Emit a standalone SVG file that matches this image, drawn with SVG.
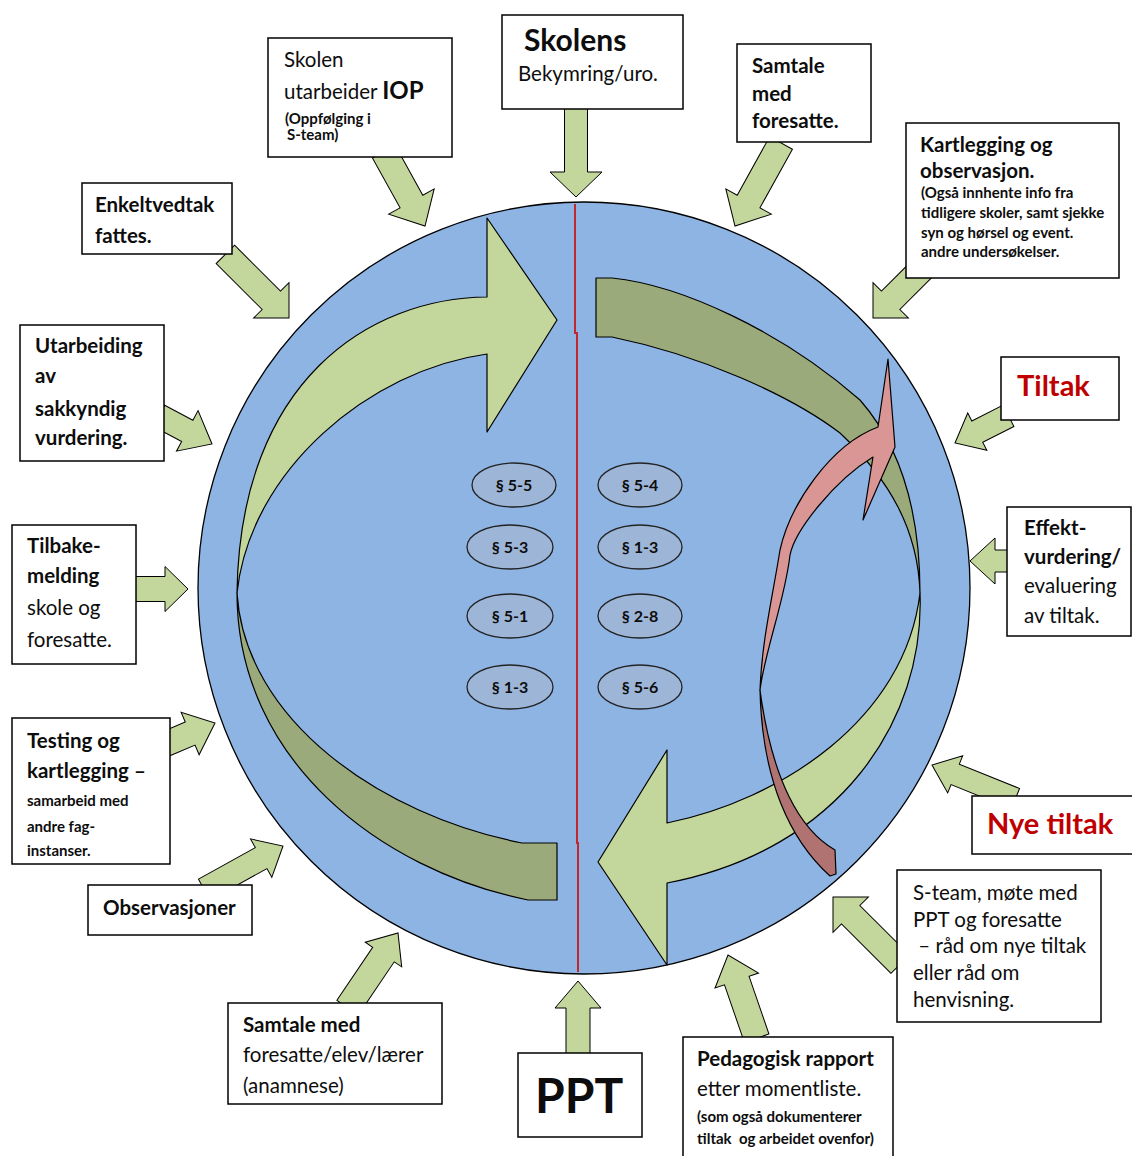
<svg xmlns="http://www.w3.org/2000/svg" width="1132" height="1156" viewBox="0 0 1132 1156">
  <style>
    .box { fill: #ffffff; stroke: #000000; stroke-width: 1.5; }
    .arr { fill: #C3D69B; stroke: #000000; stroke-width: 1; stroke-linejoin: miter; }
    .light { fill: #C3D69B; stroke: #000000; stroke-width: 1.2; stroke-linejoin: round; }
    .dark { fill: #9BAA7A; stroke: #000000; stroke-width: 1.2; stroke-linejoin: round; }
    .pink { fill: #D99694; stroke: #000000; stroke-width: 1.2; stroke-linejoin: round; }
    .pinkd { fill: #B07372; stroke: #000000; stroke-width: 1.2; stroke-linejoin: round; }
    .para ellipse { fill: #9DB6D8; stroke: #222222; stroke-width: 1.3; }
    text { font-family: Lato, "Liberation Sans", sans-serif; fill: #0d0d0d; }
    .b { font-weight: 700; }
    .f17 { font-size: 20.5px; }
    .f12 { font-size: 15px; font-weight: 700; }
    .red { fill: #C00000; font-weight: 700; font-size: 29px; }
    .para text { font-size: 16px; font-weight: 700; text-anchor: middle; }
  </style>

  <!-- central cycle -->
  <g id="cycle">
    <circle cx="584" cy="588" r="386" fill="#8EB4E3" stroke="#000" stroke-width="1.3"/>
    <polyline points="575,204 575,333 577,333 577,843 578,843 578,972" fill="none" stroke="#C0282D" stroke-width="2"/>

    <!-- left curved arrow: back face, then front face with head -->
    <path class="dark" d="M237,593 C237,760 380,870 528,900 L557,900 L557,843 L522,843 C380,815 245,720 237,593 Z"/>
    <path class="light" d="M487,218 L557,320 L487,432 L487,354 C370,370 250,470 237,593 C240,380 370,298 487,297 Z"/>

    <!-- right curved arrow: back face on top, front face with head at bottom -->
    <path class="dark" d="M596,278 L612,278 C680,285 780,330 860,400 C895,440 920,500 920,593 C918,530 890,480 840,433 C790,395 700,355 612,337 L596,337 Z"/>
    <path class="light" d="M920,593 C925,720 840,850 667,883 L667,965 L598,862 L667,750 L667,823 C780,800 905,720 920,593 Z"/>

    <!-- paragraph labels -->
    <g class="para">
      <ellipse cx="514" cy="485" rx="42" ry="22"/><text x="514" y="491">§ 5-5</text>
      <ellipse cx="510" cy="547" rx="43" ry="22"/><text x="510" y="553">§ 5-3</text>
      <ellipse cx="510" cy="616" rx="43" ry="22"/><text x="510" y="622">§ 5-1</text>
      <ellipse cx="510" cy="687" rx="43" ry="22"/><text x="510" y="693">§ 1-3</text>
      <ellipse cx="640" cy="485" rx="42" ry="22"/><text x="640" y="491">§ 5-4</text>
      <ellipse cx="640" cy="547" rx="42" ry="22"/><text x="640" y="553">§ 1-3</text>
      <ellipse cx="640" cy="616" rx="42" ry="22"/><text x="640" y="622">§ 2-8</text>
      <ellipse cx="640" cy="687" rx="42" ry="22"/><text x="640" y="693">§ 5-6</text>
    </g>

    <!-- pink curved arrow: back face, then front face with head -->
    <path class="pinkd" d="M760,690 C762,780 790,840 830,876 L836,874 L835,850 C800,830 772,780 760,690 Z"/>
    <path class="pink" d="M888,359 L895,447 L863,520 L873,457 C835,480 795,530 790,555 C785,600 765,650 760,690 C762,640 772,600 780,550 C790,505 830,445 878,427 Z"/>
  </g>

  <!-- block arrows pointing at the cycle -->
  <g id="connectors">
    <path class="arr" transform="translate(576,197) rotate(90)" d="M-90,-11.5H-25V-26L0,0L-25,26V11.5H-90Z"/>
    <path class="arr" transform="translate(425,226) rotate(61)" d="M-85,-13H-28V-26L0,0L-28,26V13H-85Z"/>
    <path class="arr" transform="translate(735,226) rotate(119)" d="M-95,-13H-28V-26L0,0L-28,26V13H-95Z"/>
    <path class="arr" transform="translate(873,318) rotate(135)" d="M-70,-13H-25V-25L0,0L-25,25V13H-70Z"/>
    <path class="arr" transform="translate(289,318) rotate(45)" d="M-90,-13H-25V-25L0,0L-25,25V13H-90Z"/>
    <path class="arr" transform="translate(212,444) rotate(28)" d="M-60,-12H-28V-23L0,0L-28,23V12H-60Z"/>
    <path class="arr" transform="translate(188,589)" d="M-55,-12.5H-23V-22.5L0,0L-23,22.5V12.5H-55Z"/>
    <path class="arr" transform="translate(215,723) rotate(-23)" d="M-55,-12.5H-27V-23L0,0L-27,23V12.5H-55Z"/>
    <path class="arr" transform="translate(283,846) rotate(-29)" d="M-90,-12H-25V-22L0,0L-25,22V12H-90Z"/>
    <path class="arr" transform="translate(398,933) rotate(-56)" d="M-90,-13H-26V-22L0,0L-26,22V13H-90Z"/>
    <path class="arr" transform="translate(578,981) rotate(-90)" d="M-75,-12H-27V-23L0,0L-27,23V12H-75Z"/>
    <path class="arr" transform="translate(728,955) rotate(-109)" d="M-88,-13H-27V-23L0,0L-27,23V13H-88Z"/>
    <path class="arr" transform="translate(833,897) rotate(-135)" d="M-95,-13H-25V-25L0,0L-25,25V13H-95Z"/>
    <path class="arr" transform="translate(932,765) rotate(202)" d="M-90,-11H-25V-20L0,0L-25,20V11H-90Z"/>
    <path class="arr" transform="translate(955,443) rotate(153)" d="M-60,-12H-25V-21L0,0L-25,21V12H-60Z"/>
    <path class="arr" transform="translate(970,561) rotate(180)" d="M-45,-11H-25V-23L0,0L-25,23V11H-45Z"/>
  </g>

  <!-- text boxes -->
  <g id="skolens">
    <rect class="box" x="502" y="15" width="181" height="94"/>
    <text class="b" x="524" y="51" font-size="30">Skolens</text>
    <text class="f17" x="518" y="81">Bekymring/uro.</text>
  </g>
  <g id="iop">
    <rect class="box" x="268" y="38" width="184" height="119"/>
    <text class="f17" x="284" y="67">Skolen</text>
    <text class="f17" x="284" y="99">utarbeider <tspan class="b" font-size="24">IOP</tspan></text>
    <text class="f12" x="285" y="124" font-size="14.5">(Oppfølging i</text>
    <text class="f12" x="287" y="140" font-size="14.5">S-team)</text>
  </g>
  <g id="samtale-foresatte">
    <rect class="box" x="737" y="44" width="134" height="98"/>
    <text class="f17 b" x="752" y="73">Samtale</text>
    <text class="f17 b" x="752" y="101">med</text>
    <text class="f17 b" x="752" y="128">foresatte.</text>
  </g>
  <g id="kartlegging">
    <rect class="box" x="906" y="123" width="213" height="155"/>
    <text class="f17 b" x="920" y="152">Kartlegging og</text>
    <text class="f17 b" x="920" y="178">observasjon.</text>
    <text class="f12" x="921" y="198">(Også innhente info fra</text>
    <text class="f12" x="921" y="218">tidligere skoler, samt sjekke</text>
    <text class="f12" x="921" y="238">syn og hørsel og event.</text>
    <text class="f12" x="921" y="257">andre undersøkelser.</text>
  </g>
  <g id="enkeltvedtak">
    <rect class="box" x="82" y="183" width="150" height="71"/>
    <text class="f17 b" x="95" y="212">Enkeltvedtak</text>
    <text class="f17 b" x="95" y="243">fattes.</text>
  </g>
  <g id="sakkyndig">
    <rect class="box" x="20" y="325" width="144" height="136"/>
    <text class="f17 b" x="35" y="353">Utarbeiding</text>
    <text class="f17 b" x="35" y="383">av</text>
    <text class="f17 b" x="35" y="416">sakkyndig</text>
    <text class="f17 b" x="35" y="445">vurdering.</text>
  </g>
  <g id="tilbakemelding">
    <rect class="box" x="12" y="525" width="124" height="139"/>
    <text class="f17 b" x="27" y="553">Tilbake-</text>
    <text class="f17 b" x="27" y="583">melding</text>
    <text class="f17" x="27" y="615">skole og</text>
    <text class="f17" x="27" y="647">foresatte.</text>
  </g>
  <g id="testing">
    <rect class="box" x="12" y="718" width="158" height="146"/>
    <text class="f17 b" x="27" y="748">Testing og</text>
    <text class="f17 b" x="27" y="778">kartlegging –</text>
    <text class="f12" x="27" y="806" font-size="16.5">samarbeid med</text>
    <text class="f12" x="27" y="832" font-size="16.5">andre fag-</text>
    <text class="f12" x="27" y="856" font-size="16.5">instanser.</text>
  </g>
  <g id="observasjoner">
    <rect class="box" x="88" y="885" width="164" height="50"/>
    <text class="f17 b" x="103" y="915">Observasjoner</text>
  </g>
  <g id="anamnese">
    <rect class="box" x="228" y="1003" width="214" height="101"/>
    <text class="f17 b" x="243" y="1032">Samtale med</text>
    <text class="f17" x="243" y="1062">foresatte/elev/lærer</text>
    <text class="f17" x="243" y="1093">(anamnese)</text>
  </g>
  <g id="ppt">
    <rect class="box" x="518" y="1053" width="124" height="84"/>
    <text class="b" x="535" y="1113" font-size="48">PPT</text>
  </g>
  <g id="pedagogisk-rapport">
    <rect class="box" x="683" y="1037" width="210" height="125"/>
    <text class="f17 b" x="697" y="1066">Pedagogisk rapport</text>
    <text class="f17" x="697" y="1096">etter momentliste.</text>
    <text class="f12" x="697" y="1122">(som også dokumenterer</text>
    <text class="f12" x="697" y="1144" xml:space="preserve">tiltak  og arbeidet ovenfor)</text>
  </g>
  <g id="s-team">
    <rect class="box" x="897" y="870" width="204" height="152"/>
    <text class="f17" x="913" y="900">S-team, møte med</text>
    <text class="f17" x="913" y="927">PPT og foresatte</text>
    <text class="f17" x="913" y="953" xml:space="preserve"> – råd om nye tiltak</text>
    <text class="f17" x="913" y="980">eller råd om</text>
    <text class="f17" x="913" y="1007">henvisning.</text>
  </g>
  <g id="nye-tiltak">
    <rect class="box" x="972" y="796" width="166" height="58"/>
    <text class="red" x="987" y="834">Nye tiltak</text>
  </g>
  <g id="tiltak">
    <rect class="box" x="1001" y="357" width="118" height="63"/>
    <text class="red" x="1017" y="396">Tiltak</text>
  </g>
  <g id="effektvurdering">
    <rect class="box" x="1007" y="507" width="124" height="129"/>
    <text class="f17 b" x="1024" y="535">Effekt-</text>
    <text class="f17 b" x="1024" y="564">vurdering/</text>
    <text class="f17" x="1024" y="593">evaluering</text>
    <text class="f17" x="1024" y="623">av tiltak.</text>
  </g>
</svg>
